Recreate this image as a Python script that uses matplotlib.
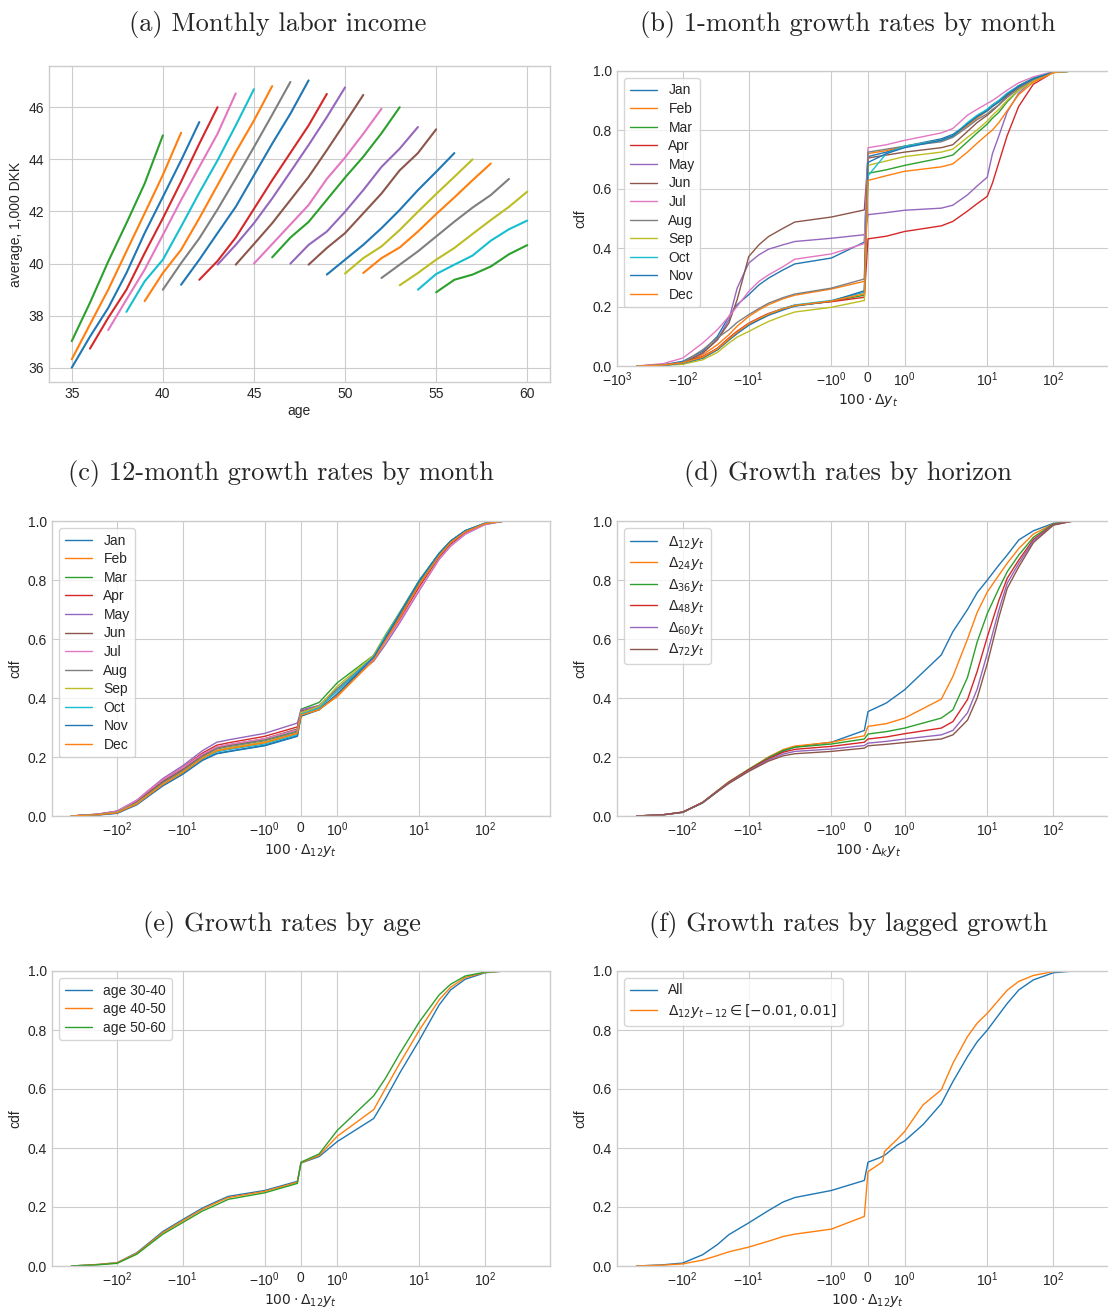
import matplotlib.pyplot as plt

plt.style.use('seaborn-v0_8-whitegrid')
plt.rcParams['font.family'] = 'sans-serif'
plt.rcParams['font.sans-serif'] = ['Liberation Sans', 'DejaVu Sans']

# (a) average monthly labor income by age, one line per cohort
cohort_start = [35, 35, 35, 36, 37, 38, 39, 40, 41, 42, 43, 44, 45, 46, 47, 48, 49, 50, 51, 52, 53, 54, 55]
cohort_color = ['tab:green', 'tab:orange', 'tab:blue', 'tab:red', 'tab:pink', 'tab:cyan', 'tab:orange',
                'tab:gray', 'tab:blue', 'tab:red', 'tab:purple', 'tab:brown', 'tab:pink', 'tab:green',
                'tab:purple', 'tab:brown', 'tab:blue', 'tab:olive', 'tab:orange', 'tab:gray', 'tab:olive',
                'tab:cyan', 'tab:green']
cohort_income = [
    [37.03, 38.5, 40.08, 41.55, 43.07, 44.92],
    [36.33, 37.67, 39.0, 40.47, 41.93, 43.4, 45.02],
    [36.01, 37.2, 38.3, 39.64, 41.17, 42.56, 43.96, 45.43],
    [36.74, 37.92, 39.0, 40.4, 41.74, 43.14, 44.6, 46.0],
    [37.45, 38.62, 39.77, 41.1, 42.44, 43.71, 44.98, 46.53],
    [38.15, 39.32, 40.15, 41.42, 42.72, 43.96, 45.3, 46.69],
    [38.56, 39.64, 40.53, 41.74, 43.01, 44.28, 45.49, 46.81],
    [39.0, 40.02, 40.97, 42.08, 43.26, 44.47, 45.71, 46.97],
    [39.19, 40.15, 41.17, 42.18, 43.39, 44.6, 45.75, 47.03],
    [39.38, 40.1, 41.0, 42.1, 43.2, 44.25, 45.3, 46.51],
    [39.96, 40.72, 41.55, 42.5, 43.52, 44.55, 45.62, 46.76],
    [39.96, 40.75, 41.55, 42.44, 43.33, 44.35, 45.4, 46.47],
    [40.0, 40.75, 41.5, 42.25, 43.25, 44.07, 44.98, 45.94],
    [40.24, 41.0, 41.6, 42.45, 43.3, 44.1, 45.0, 46.0],
    [40.0, 40.72, 41.23, 41.99, 42.82, 43.71, 44.41, 45.24],
    [39.96, 40.6, 41.17, 41.93, 42.69, 43.58, 44.24, 45.15],
    [39.58, 40.15, 40.72, 41.36, 42.06, 42.82, 43.52, 44.24],
    [39.62, 40.21, 40.66, 41.29, 41.99, 42.67, 43.33, 44.0],
    [39.64, 40.21, 40.62, 41.23, 41.9, 42.54, 43.2, 43.84],
    [39.45, 39.96, 40.47, 41.04, 41.61, 42.15, 42.63, 43.25],
    [39.17, 39.64, 40.15, 40.6, 41.14, 41.67, 42.18, 42.76],
    [39.0, 39.6, 39.96, 40.31, 40.88, 41.32, 41.65],
    [38.9, 39.38, 39.58, 39.89, 40.36, 40.71],
]

months = ['Jan', 'Feb', 'Mar', 'Apr', 'May', 'Jun', 'Jul', 'Aug', 'Sep', 'Oct', 'Nov', 'Dec']

# (b) cdf of 1-month growth rates (100 * dy), jump at zero between -0.1 and 0
x_b = [-500, -200, -100, -50, -30, -20, -15, -10, -7, -5, -3, -2, -1, -0.1, 0,
       0.5, 1, 2, 3, 5, 7, 10, 12, 15, 20, 30, 50, 100, 200, 400]
cdf_b = {
    'Jan': [0, 0.004, 0.016, 0.05, 0.10, 0.168, 0.208, 0.242, 0.275, 0.298, 0.326, 0.346, 0.366, 0.42, 0.71,
            0.725, 0.745, 0.77, 0.785, 0.82, 0.845, 0.87, 0.885, 0.90, 0.92, 0.95, 0.975, 0.996, 1, 1],
    'Feb': [0, 0.003, 0.008, 0.038, 0.072, 0.106, 0.135, 0.168, 0.19, 0.208, 0.228, 0.24, 0.261, 0.287, 0.72,
            0.73, 0.745, 0.765, 0.78, 0.815, 0.84, 0.865, 0.88, 0.895, 0.92, 0.95, 0.975, 0.996, 1, 1],
    'Mar': [0, 0.002, 0.01, 0.027, 0.055, 0.089, 0.112, 0.14, 0.158, 0.174, 0.192, 0.204, 0.219, 0.24, 0.653,
            0.665, 0.68, 0.705, 0.715, 0.76, 0.79, 0.82, 0.84, 0.86, 0.895, 0.935, 0.97, 0.995, 1, 1],
    'Apr': [0, 0.003, 0.012, 0.032, 0.06, 0.095, 0.118, 0.145, 0.163, 0.178, 0.195, 0.206, 0.218, 0.233, 0.431,
            0.44, 0.456, 0.475, 0.49, 0.525, 0.55, 0.575, 0.62, 0.69, 0.78, 0.88, 0.955, 0.995, 1, 1],
    'May': [0, 0.003, 0.01, 0.044, 0.089, 0.157, 0.264, 0.349, 0.377, 0.396, 0.411, 0.422, 0.433, 0.445, 0.513,
            0.52, 0.528, 0.535, 0.545, 0.58, 0.61, 0.64, 0.72, 0.78, 0.86, 0.925, 0.97, 0.997, 1, 1],
    'Jun': [0, 0.003, 0.01, 0.044, 0.089, 0.146, 0.225, 0.371, 0.411, 0.439, 0.467, 0.488, 0.505, 0.529, 0.705,
            0.715, 0.725, 0.74, 0.75, 0.795, 0.825, 0.85, 0.865, 0.885, 0.915, 0.945, 0.973, 0.996, 1, 1],
    'Jul': [0, 0.008, 0.027, 0.078, 0.123, 0.168, 0.202, 0.253, 0.287, 0.309, 0.337, 0.362, 0.38, 0.415, 0.74,
            0.75, 0.765, 0.79, 0.805, 0.85, 0.87, 0.89, 0.90, 0.915, 0.935, 0.96, 0.98, 0.998, 1, 1],
    'Aug': [0, 0.004, 0.012, 0.055, 0.095, 0.123, 0.148, 0.174, 0.195, 0.213, 0.232, 0.244, 0.264, 0.295, 0.725,
            0.735, 0.745, 0.76, 0.775, 0.81, 0.835, 0.855, 0.87, 0.885, 0.91, 0.94, 0.97, 0.995, 1, 1],
    'Sep': [0, 0.002, 0.006, 0.021, 0.046, 0.078, 0.098, 0.117, 0.135, 0.151, 0.17, 0.183, 0.199, 0.222, 0.68,
            0.695, 0.71, 0.725, 0.735, 0.775, 0.80, 0.83, 0.85, 0.87, 0.90, 0.935, 0.965, 0.994, 1, 1],
    'Oct': [0, 0.002, 0.01, 0.028, 0.057, 0.09, 0.113, 0.142, 0.16, 0.176, 0.195, 0.207, 0.222, 0.25, 0.645,
            0.72, 0.745, 0.765, 0.78, 0.825, 0.85, 0.87, 0.885, 0.90, 0.925, 0.95, 0.975, 0.996, 1, 1],
    'Nov': [0, 0.002, 0.01, 0.027, 0.055, 0.088, 0.11, 0.138, 0.156, 0.172, 0.19, 0.203, 0.22, 0.255, 0.69,
            0.72, 0.74, 0.765, 0.78, 0.82, 0.845, 0.865, 0.88, 0.895, 0.92, 0.948, 0.974, 0.996, 1, 1],
    'Dec': [0, 0.003, 0.011, 0.03, 0.058, 0.092, 0.115, 0.143, 0.161, 0.176, 0.194, 0.205, 0.22, 0.245, 0.629,
            0.645, 0.66, 0.675, 0.685, 0.725, 0.755, 0.785, 0.80, 0.825, 0.865, 0.92, 0.962, 0.995, 1, 1],
}

# (c) cdf of 12-month growth rates by calendar month
x_c = [-500, -200, -100, -50, -30, -20, -10, -5, -3, -2, -1, -0.1, 0,
       0.5, 1, 2, 3, 5, 10, 20, 30, 50, 100, 200, 400]
cdf_c = {
    'Jan': [0, 0.004, 0.010, 0.040, 0.076, 0.104, 0.143, 0.190, 0.212, 0.219, 0.240, 0.272, 0.340,
            0.362, 0.410, 0.535, 0.600, 0.685, 0.798, 0.890, 0.932, 0.967, 0.992, 1, 1],
    'Feb': [0, 0.004, 0.012, 0.043, 0.080, 0.109, 0.149, 0.197, 0.222, 0.230, 0.250, 0.282, 0.345,
            0.362, 0.405, 0.530, 0.595, 0.675, 0.788, 0.884, 0.928, 0.964, 0.991, 1, 1],
    'Mar': [0, 0.005, 0.013, 0.046, 0.083, 0.113, 0.154, 0.203, 0.230, 0.238, 0.258, 0.288, 0.362,
            0.385, 0.452, 0.545, 0.612, 0.690, 0.800, 0.890, 0.932, 0.966, 0.992, 1, 1],
    'Apr': [0, 0.006, 0.016, 0.051, 0.091, 0.122, 0.164, 0.213, 0.240, 0.248, 0.270, 0.302, 0.355,
            0.372, 0.430, 0.535, 0.595, 0.668, 0.778, 0.878, 0.922, 0.960, 0.990, 1, 1],
    'May': [0, 0.006, 0.017, 0.054, 0.095, 0.127, 0.170, 0.221, 0.250, 0.258, 0.280, 0.315, 0.360,
            0.375, 0.432, 0.525, 0.580, 0.655, 0.765, 0.870, 0.915, 0.955, 0.988, 1, 1],
    'Jun': [0, 0.005, 0.014, 0.048, 0.086, 0.117, 0.158, 0.206, 0.233, 0.241, 0.262, 0.295, 0.350,
            0.368, 0.425, 0.535, 0.598, 0.675, 0.785, 0.880, 0.925, 0.962, 0.990, 1, 1],
    'Jul': [0, 0.006, 0.016, 0.053, 0.093, 0.123, 0.163, 0.209, 0.234, 0.242, 0.262, 0.292, 0.350,
            0.370, 0.428, 0.532, 0.590, 0.660, 0.768, 0.870, 0.916, 0.956, 0.988, 1, 1],
    'Aug': [0, 0.005, 0.013, 0.045, 0.082, 0.112, 0.153, 0.201, 0.227, 0.235, 0.255, 0.285, 0.352,
            0.372, 0.432, 0.540, 0.605, 0.682, 0.792, 0.886, 0.929, 0.965, 0.991, 1, 1],
    'Sep': [0, 0.004, 0.012, 0.043, 0.079, 0.108, 0.148, 0.196, 0.222, 0.230, 0.250, 0.280, 0.350,
            0.372, 0.440, 0.545, 0.612, 0.690, 0.798, 0.888, 0.930, 0.966, 0.992, 1, 1],
    'Oct': [0, 0.004, 0.011, 0.041, 0.077, 0.106, 0.145, 0.192, 0.217, 0.225, 0.244, 0.276, 0.345,
            0.366, 0.425, 0.540, 0.608, 0.688, 0.798, 0.890, 0.932, 0.967, 0.992, 1, 1],
    'Nov': [0, 0.003, 0.009, 0.038, 0.074, 0.102, 0.141, 0.188, 0.211, 0.218, 0.238, 0.270, 0.338,
            0.360, 0.415, 0.538, 0.602, 0.686, 0.798, 0.890, 0.932, 0.967, 0.992, 1, 1],
    'Dec': [0, 0.004, 0.011, 0.041, 0.078, 0.107, 0.147, 0.195, 0.221, 0.228, 0.248, 0.280, 0.342,
            0.360, 0.408, 0.528, 0.592, 0.672, 0.785, 0.882, 0.927, 0.963, 0.991, 1, 1],
}

# (d) cdf by horizon k
x_d = [-500, -200, -100, -50, -30, -20, -10, -5, -3, -2, -1, -0.1, 0,
       0.5, 1, 2, 3, 5, 7, 10, 15, 20, 30, 50, 100, 200, 400]
horizon_labels = [r'$\Delta_{12}y_t$', r'$\Delta_{24}y_t$', r'$\Delta_{36}y_t$',
                  r'$\Delta_{48}y_t$', r'$\Delta_{60}y_t$', r'$\Delta_{72}y_t$']
cdf_d12 = [0, 0.004, 0.012, 0.044, 0.082, 0.112, 0.155, 0.195, 0.219, 0.234, 0.25, 0.29, 0.354,
           0.383, 0.428, 0.546, 0.625, 0.70, 0.757, 0.80, 0.851, 0.885, 0.936, 0.967, 0.992, 1, 1]
cdf_d24 = [0, 0.004, 0.013, 0.046, 0.085, 0.116, 0.158, 0.20, 0.225, 0.237, 0.25, 0.272, 0.304,
           0.313, 0.332, 0.396, 0.473, 0.60, 0.69, 0.76, 0.817, 0.857, 0.907, 0.956, 0.99, 1, 1]
cdf_d36 = [0, 0.004, 0.013, 0.046, 0.085, 0.115, 0.158, 0.198, 0.222, 0.233, 0.244, 0.261, 0.278,
           0.286, 0.298, 0.332, 0.36, 0.47, 0.59, 0.687, 0.772, 0.828, 0.885, 0.945, 0.99, 1, 1]
cdf_d48 = [0, 0.004, 0.013, 0.046, 0.084, 0.114, 0.156, 0.194, 0.216, 0.226, 0.236, 0.25, 0.261,
           0.268, 0.279, 0.298, 0.32, 0.395, 0.49, 0.608, 0.732, 0.806, 0.868, 0.938, 0.988, 1, 1]
cdf_d60 = [0, 0.004, 0.013, 0.045, 0.083, 0.112, 0.153, 0.19, 0.21, 0.219, 0.227, 0.239, 0.247,
           0.253, 0.261, 0.275, 0.29, 0.35, 0.43, 0.552, 0.70, 0.789, 0.857, 0.933, 0.987, 1, 1]
cdf_d72 = [0, 0.004, 0.013, 0.045, 0.082, 0.11, 0.151, 0.186, 0.204, 0.211, 0.219, 0.23, 0.238,
           0.243, 0.249, 0.261, 0.275, 0.325, 0.40, 0.518, 0.675, 0.772, 0.845, 0.927, 0.986, 1, 1]

# (e) cdf of 12-month growth by age group
x_e = x_c
age_labels = ['age 30-40', 'age 40-50', 'age 50-60']
cdf_age30 = [0, 0.005, 0.011, 0.045, 0.085, 0.117, 0.157, 0.196, 0.219, 0.236, 0.256, 0.287, 0.349,
             0.371, 0.422, 0.50, 0.565, 0.654, 0.766, 0.885, 0.936, 0.972, 0.994, 1, 1]
cdf_age40 = [0, 0.005, 0.011, 0.043, 0.082, 0.113, 0.153, 0.192, 0.215, 0.232, 0.253, 0.284, 0.35,
             0.375, 0.44, 0.53, 0.60, 0.687, 0.80, 0.902, 0.945, 0.978, 0.995, 1, 1]
cdf_age50 = [0, 0.004, 0.009, 0.04, 0.078, 0.108, 0.147, 0.186, 0.208, 0.226, 0.248, 0.28, 0.352,
             0.38, 0.46, 0.577, 0.635, 0.72, 0.828, 0.919, 0.955, 0.983, 0.996, 1, 1]

# (f) all vs. lagged growth close to zero
x_f = [-500, -200, -100, -50, -30, -20, -10, -5, -3, -2, -1, -0.1, 0, 0.3, 0.4, 0.45, 0.8, 1,
       1.5, 2, 3, 5, 7, 10, 20, 30, 50, 100, 200, 400]
cdf_all = [0, 0.004, 0.01, 0.038, 0.072, 0.106, 0.146, 0.188, 0.217, 0.232, 0.256, 0.29, 0.352, 0.366,
           0.372, 0.375, 0.41, 0.424, 0.479, 0.55, 0.625, 0.71, 0.76, 0.80, 0.89, 0.936, 0.97, 0.994, 1, 1]
cdf_lag0 = [0, 0.003, 0.007, 0.02, 0.035, 0.048, 0.064, 0.084, 0.10, 0.108, 0.125, 0.168, 0.32, 0.345,
            0.354, 0.388, 0.43, 0.456, 0.546, 0.597, 0.687, 0.778, 0.823, 0.857, 0.935, 0.965, 0.985, 0.998, 1, 1]

W, H = 1108, 1308
fig = plt.figure(figsize=(W / 100, H / 100), dpi=100)


def box(l, r, t, b):
    return [l / W, 1 - b / H, (r - l) / W, (b - t) / H]


def cdf_axes(ax, xlabel, left=-990, right=990):
    ax.set_xscale('symlog', linthresh=2, linscale=1)
    ax.set_xticks([-1000, -100, -10, -1, 0, 1, 10, 100])
    ax.set_xlim(left, right)
    ax.set_ylim(0, 1)
    ax.set_yticks([0, 0.2, 0.4, 0.6, 0.8, 1.0])
    ax.set_xlabel(xlabel, labelpad=2)
    ax.set_ylabel('cdf')
    ax.legend(loc='upper left', frameon=True, labelspacing=0.33)


title_kw = dict(ha='center', va='center', fontsize=19, family='cmr10')

# (a)
ax = fig.add_axes(box(49, 550, 66, 382))
for start, vals, c in zip(cohort_start, cohort_income, cohort_color):
    ax.plot(range(start, start + len(vals)), vals, color=c, lw=1.5)
ax.set_xticks([35, 40, 45, 50, 55, 60])
ax.set_yticks([36, 38, 40, 42, 44, 46])
ax.set_xlabel('age', labelpad=2)
ax.set_ylabel('average, 1,000 DKK')
fig.text(278 / W, 1 - 24 / H, '(a) Monthly labor income', **title_kw)

# (b)
ax = fig.add_axes(box(617, 1119, 71, 366))
for m in months:
    ax.plot(x_b, cdf_b[m], lw=1, label=m)
cdf_axes(ax, r'$100\cdot\Delta y_t$', -1000, 1000)
fig.text(848 / W, 1 - 24 / H, '(b) 1-month growth rates by month', **title_kw)

# (c)
ax = fig.add_axes(box(52, 550, 521, 816))
for m in months:
    ax.plot(x_c, cdf_c[m], lw=1, label=m)
cdf_axes(ax, r'$100\cdot\Delta_{12}y_t$')
fig.text(281 / W, 1 - 474 / H, '(c) 12-month growth rates by month', **title_kw)

# (d)
ax = fig.add_axes(box(617, 1119, 521, 816))
for vals, lab in zip([cdf_d12, cdf_d24, cdf_d36, cdf_d48, cdf_d60, cdf_d72], horizon_labels):
    ax.plot(x_d, vals, lw=1, label=lab)
cdf_axes(ax, r'$100\cdot\Delta_{k}y_t$')
fig.text(848 / W, 1 - 474 / H, '(d) Growth rates by horizon', **title_kw)

# (e)
ax = fig.add_axes(box(52, 550, 971, 1266))
for vals, lab in zip([cdf_age30, cdf_age40, cdf_age50], age_labels):
    ax.plot(x_e, vals, lw=1, label=lab)
cdf_axes(ax, r'$100\cdot\Delta_{12}y_t$')
fig.text(282 / W, 1 - 924 / H, '(e) Growth rates by age', **title_kw)

# (f)
ax = fig.add_axes(box(617, 1119, 971, 1266))
ax.plot(x_f, cdf_all, lw=1, label='All')
ax.plot(x_f, cdf_lag0, lw=1, label=r'$\Delta_{12}y_{t-12}\in[-0.01,0.01]$')
cdf_axes(ax, r'$100\cdot\Delta_{12}y_t$')
fig.text(848 / W, 1 - 924 / H, '(f) Growth rates by lagged growth', **title_kw)

fig.savefig('out.png', dpi=100)
